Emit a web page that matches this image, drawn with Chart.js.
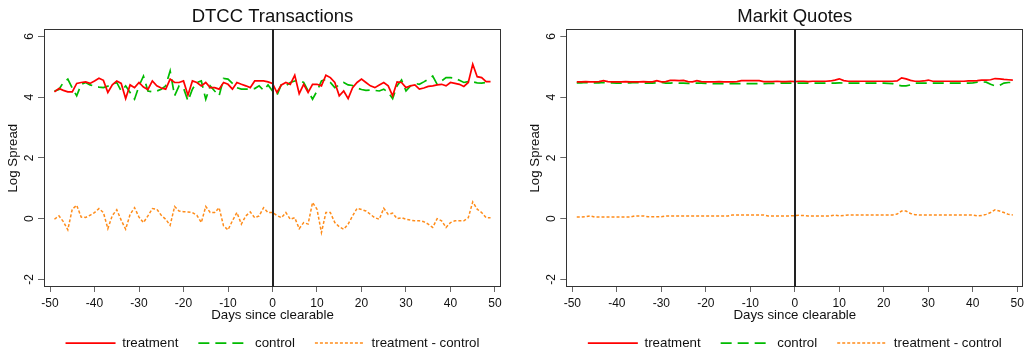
<!DOCTYPE html>
<html>
<head>
<meta charset="utf-8">
<title>Log Spread</title>
<script src="https://cdn.jsdelivr.net/npm/chart.js@4.4.1/dist/chart.umd.min.js"></script>
<style>
  html, body { margin: 0; padding: 0; background: #fff; }
  .wrap { display: flex; width: 1024px; height: 354px; }
  .wrap canvas { display: block; }
</style>
</head>
<body>
<div class="wrap">
  <canvas id="dtcc" width="512" height="354"></canvas>
  <canvas id="markit" width="512" height="354"></canvas>
</div>
<script>
// days since clearable
const days = [-49, -48, -47, -46, -45, -44, -43, -42, -41, -40,
  -39, -38, -37, -36, -35, -34, -33, -32, -31, -30,
  -29, -28, -27, -26, -25, -24, -23, -22, -21, -20,
  -19, -18, -17, -16, -15, -14, -13, -12, -11, -10,
  -9, -8, -7, -6, -5, -4, -3, -2, -1, 0,
  1, 2, 3, 4, 5, 6, 7, 8, 9, 10,
  11, 12, 13, 14, 15, 16, 17, 18, 19, 20,
  21, 22, 23, 24, 25, 26, 27, 28, 29, 30,
  31, 32, 33, 34, 35, 36, 37, 38, 39, 40,
  41, 42, 43, 44, 45, 46, 47, 48, 49];

const xTicks = [-50, -40, -30, -20, -10, 0, 10, 20, 30, 40, 50];
const yTicks = [-2, 0, 2, 4, 6];

// DTCC transactions
const dtccTreatment = [4.17, 4.28, 4.22, 4.17, 4.17, 4.45, 4.48, 4.50, 4.45, 4.53,
  4.62, 4.55, 4.15, 4.40, 4.53, 4.45, 3.95, 4.40, 4.31, 4.48,
  4.33, 4.25, 4.53, 4.37, 4.30, 4.26, 4.59, 4.48, 4.48, 4.53,
  4.06, 4.53, 4.48, 4.37, 4.48, 4.31, 4.31, 4.26, 4.48, 4.42,
  4.26, 4.48, 4.42, 4.37, 4.31, 4.53, 4.53, 4.53, 4.50, 4.45,
  4.15, 4.40, 4.48, 4.42, 4.72, 4.11, 4.42, 4.15, 4.42, 4.42,
  4.37, 4.72, 4.64, 4.48, 4.04, 4.20, 3.95, 4.31, 4.48, 4.59,
  4.48, 4.37, 4.31, 4.40, 4.48, 4.37, 4.04, 4.50, 4.48, 4.31,
  4.37, 4.40, 4.26, 4.30, 4.35, 4.37, 4.40, 4.42, 4.37, 4.48,
  4.45, 4.42, 4.35, 4.48, 5.08, 4.67, 4.64, 4.51, 4.51];

const dtccControl = [4.20, 4.25, 4.48, 4.59, 4.30, 4.04, 4.42, 4.48, 4.40, 4.36,
  4.33, 4.31, 4.36, 4.42, 4.48, 4.20, 4.37, 4.15, 3.93, 4.37,
  4.69, 4.20, 4.17, 4.20, 4.26, 4.37, 4.86, 4.04, 4.37, 4.30,
  3.87, 4.26, 4.48, 4.53, 3.93, 4.37, 4.20, 4.04, 4.61, 4.59,
  4.45, 4.31, 4.26, 4.26, 4.27, 4.28, 4.37, 4.22, 4.40, 4.20,
  4.06, 4.42, 4.37, 4.48, 4.53, 4.56, 4.48, 4.20, 3.93, 4.20,
  4.53, 4.59, 4.48, 4.31, 4.40, 4.48, 4.40, 4.38, 4.30, 4.25,
  4.22, 4.23, 4.22, 4.20, 4.26, 4.15, 3.95, 4.37, 4.56, 4.20,
  4.37, 4.45, 4.42, 4.50, 4.59, 4.69, 4.42, 4.53, 4.64, 4.64,
  4.62, 4.55, 4.48, 4.51, 4.50, 4.47, 4.46, 4.48, 4.51];

const dtccDiff = [-0.02, 0.09, -0.10, -0.37, 0.31, 0.44, 0.05, 0.04, 0.11, 0.20,
  0.33, 0.20, -0.33, 0.10, 0.29, -0.05, -0.35, 0.14, 0.36, 0.05,
  -0.13, 0.09, 0.33, 0.31, 0.11, -0.02, -0.22, 0.40, 0.25, 0.23,
  0.22, 0.20, 0.11, -0.13, 0.40, 0.20, 0.20, 0.36, -0.24, -0.37,
  -0.07, 0.20, -0.18, 0.09, 0.22, 0.03, 0.09, 0.36, 0.20, 0.20,
  0.10, 0.03, 0.20, -0.02, 0.03, -0.33, -0.13, -0.18, 0.53, 0.31,
  -0.46, 0.20, 0.20, -0.13, -0.27, -0.35, -0.18, 0.09, 0.34, 0.30,
  0.25, 0.14, 0.03, -0.02, 0.34, 0.14, 0.18, 0.00, 0.03, -0.02,
  -0.05, -0.07, -0.07, -0.10, -0.18, -0.29, 0.00, -0.07, -0.29, -0.13,
  -0.07, -0.07, -0.07, 0.03, 0.55, 0.31, 0.20, 0.03, 0.03];

// Markit quotes
const markitTreatment = [4.50, 4.50, 4.51, 4.50, 4.50, 4.51, 4.54, 4.51, 4.50, 4.50,
  4.50, 4.51, 4.50, 4.50, 4.50, 4.51, 4.50, 4.50, 4.54, 4.50,
  4.51, 4.55, 4.55, 4.54, 4.55, 4.51, 4.50, 4.54, 4.51, 4.50,
  4.50, 4.50, 4.51, 4.50, 4.50, 4.50, 4.51, 4.54, 4.54, 4.54,
  4.54, 4.54, 4.51, 4.51, 4.51, 4.52, 4.51, 4.51, 4.52, 4.51,
  4.52, 4.52, 4.51, 4.52, 4.52, 4.52, 4.52, 4.53, 4.56, 4.60,
  4.54, 4.52, 4.52, 4.52, 4.52, 4.52, 4.52, 4.52, 4.52, 4.52,
  4.52, 4.52, 4.53, 4.63, 4.60, 4.55, 4.52, 4.52, 4.53, 4.56,
  4.52, 4.52, 4.52, 4.52, 4.52, 4.52, 4.52, 4.52, 4.53, 4.53,
  4.54, 4.56, 4.56, 4.57, 4.61, 4.60, 4.58, 4.57, 4.56];

const markitControl = [4.47, 4.47, 4.48, 4.47, 4.47, 4.47, 4.48, 4.47, 4.47, 4.46,
  4.46, 4.47, 4.47, 4.48, 4.47, 4.46, 4.46, 4.46, 4.47, 4.48,
  4.46, 4.46, 4.47, 4.46, 4.46, 4.45, 4.46, 4.46, 4.46, 4.45,
  4.45, 4.44, 4.44, 4.44, 4.44, 4.45, 4.44, 4.44, 4.44, 4.44,
  4.44, 4.44, 4.44, 4.45, 4.45, 4.45, 4.46, 4.46, 4.46, 4.46,
  4.46, 4.46, 4.46, 4.46, 4.46, 4.46, 4.46, 4.46, 4.46, 4.47,
  4.46, 4.46, 4.46, 4.46, 4.46, 4.46, 4.46, 4.46, 4.46, 4.46,
  4.45, 4.44, 4.40, 4.37, 4.37, 4.40, 4.46, 4.46, 4.46, 4.46,
  4.46, 4.46, 4.46, 4.46, 4.46, 4.46, 4.46, 4.46, 4.46, 4.47,
  4.49, 4.50, 4.49, 4.42, 4.37, 4.38, 4.46, 4.48, 4.48];

const markitDiff = [0.05, 0.05, 0.06, 0.09, 0.05, 0.05, 0.05, 0.05, 0.05, 0.05,
  0.05, 0.05, 0.05, 0.09, 0.09, 0.09, 0.06, 0.06, 0.06, 0.06,
  0.09, 0.09, 0.09, 0.09, 0.09, 0.09, 0.09, 0.09, 0.09, 0.09,
  0.09, 0.09, 0.09, 0.09, 0.09, 0.12, 0.12, 0.12, 0.12, 0.12,
  0.12, 0.12, 0.12, 0.09, 0.09, 0.09, 0.09, 0.09, 0.09, 0.10,
  0.11, 0.10, 0.09, 0.09, 0.09, 0.09, 0.09, 0.09, 0.12, 0.09,
  0.10, 0.12, 0.12, 0.12, 0.12, 0.12, 0.12, 0.12, 0.12, 0.12,
  0.12, 0.12, 0.15, 0.25, 0.25, 0.17, 0.13, 0.12, 0.12, 0.12,
  0.12, 0.12, 0.12, 0.12, 0.12, 0.12, 0.12, 0.12, 0.12, 0.12,
  0.09, 0.10, 0.14, 0.20, 0.29, 0.25, 0.20, 0.14, 0.12];

const RED = '#ff0000';
const GREEN = '#00bb00';
const ORANGE = '#ff8c1a';
const TXT = '#111';

Chart.defaults.font.family = '"Liberation Sans", Arial, sans-serif';
Chart.defaults.color = TXT;

// box round the plot + the line at day 0
const frame = {
  id: 'frame',
  afterDatasetsDraw(chart) {
    const {ctx, chartArea: a, scales: {x}} = chart;
    ctx.save();
    ctx.strokeStyle = '#333';
    ctx.lineWidth = 1;
    ctx.strokeRect(Math.round(a.left) + 0.5, Math.round(a.top) + 0.5,
      Math.round(a.width) - 1, Math.round(a.height) - 1);
    const x0 = Math.round(x.getPixelForValue(0));
    ctx.strokeStyle = '#222';
    ctx.lineWidth = 2;
    ctx.beginPath();
    ctx.moveTo(x0, a.top);
    ctx.lineTo(x0, a.bottom);
    ctx.stroke();
    ctx.restore();
  }
};

// legend samples keep the dash of their line
function legendItems(chart) {
  return chart.data.datasets.map((ds, i) => ({
    text: ds.label,
    datasetIndex: i,
    hidden: false,
    fontColor: TXT,
    fillStyle: ds.borderColor,
    strokeStyle: ds.borderColor,
    lineWidth: ds.borderWidth,
    lineDash: ds.borderDash || [],
    pointStyle: 'line'
  }));
}

function makeChart(id, title, treat, ctrl, diff, padLeft, padRight) {
  const pts = vals => days.map((d, i) => ({x: d, y: vals[i]}));
  return new Chart(document.getElementById(id), {
    type: 'line',
    data: {
      datasets: [
        {label: 'treatment', data: pts(treat), borderColor: RED, backgroundColor: RED, borderWidth: 1.7},
        {label: 'control', data: pts(ctrl), borderColor: GREEN, backgroundColor: GREEN, borderWidth: 1.7, borderDash: [11, 6]},
        {label: 'treatment - control', data: pts(diff), borderColor: ORANGE, backgroundColor: ORANGE, borderWidth: 1.5, borderDash: [3, 2]}
      ]
    },
    options: {
      responsive: false,
      animation: false,
      events: [],
      layout: {padding: {left: padLeft, right: padRight, top: 0, bottom: 0}},
      elements: {point: {radius: 0}, line: {tension: 0}},
      scales: {
        x: {
          type: 'linear',
          min: -51.35,
          max: 51.35,
          afterBuildTicks: s => { s.ticks = xTicks.map(v => ({value: v})); },
          afterFit: s => { s.height = 29.4; s.paddingLeft = 0; s.paddingRight = 0; },
          border: {display: false},
          grid: {drawOnChartArea: false, tickLength: 5, color: '#666', tickColor: '#666'},
          ticks: {padding: 4.3, maxRotation: 0, autoSkip: false, font: {size: 12}, color: TXT, callback: v => v},
          title: {display: true, text: 'Days since clearable', font: {size: 13.3}, color: TXT, padding: {top: 0, bottom: -6.6}}
        },
        y: {
          type: 'linear',
          min: -2.25,
          max: 6.23,
          afterBuildTicks: s => { s.ticks = yTicks.map(v => ({value: v})); },
          afterFit: s => { s.width = 44; s.paddingTop = 0; s.paddingBottom = 0; },
          border: {display: false},
          grid: {drawOnChartArea: false, tickLength: 6, color: '#666', tickColor: '#666'},
          ticks: {padding: 3, minRotation: 90, maxRotation: 90, crossAlign: 'center', font: {size: 12}, color: TXT, callback: v => v},
          title: {display: true, text: 'Log Spread', font: {size: 13.3}, color: TXT, padding: {top: 5.2, bottom: 0}}
        }
      },
      plugins: {
        title: {
          display: true,
          text: title,
          fullSize: false,
          color: TXT,
          font: {size: 18.5, weight: 'normal'},
          padding: {top: 5.5, bottom: 1.6}
        },
        legend: {
          position: 'bottom',
          fullSize: false,
          maxHeight: 37.6,
          labels: {
            usePointStyle: true,
            pointStyle: 'line',
            pointStyleWidth: 50,
            padding: 20,
            color: TXT,
            font: {size: 13.3},
            generateLabels: legendItems
          }
        },
        tooltip: {enabled: false}
      }
    },
    plugins: [frame]
  });
}

makeChart('dtcc', 'DTCC Transactions', dtccTreatment, dtccControl, dtccDiff, 0, 11);
makeChart('markit', 'Markit Quotes', markitTreatment, markitControl, markitDiff, 10.3, 0.7);
</script>
</body>
</html>
